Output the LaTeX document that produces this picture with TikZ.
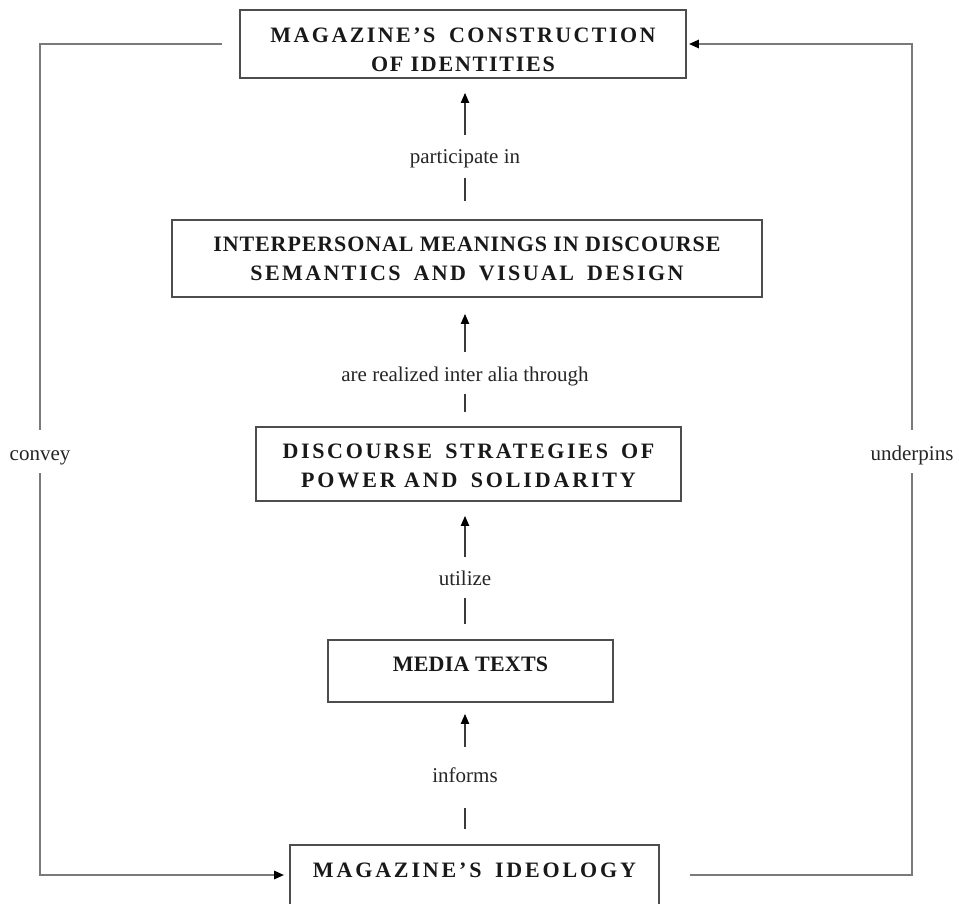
\documentclass[tikz,border=0pt]{standalone}
\usepackage{fontspec}
\setmainfont{Liberation Serif}
\usetikzlibrary{arrows.meta}
\definecolor{boxc}{HTML}{4D4D4D}
\definecolor{connc}{HTML}{7A7A7A}
\definecolor{arrc}{HTML}{3A3A3A}
\newcommand{\bxf}{\fontsize{22}{29}\selectfont\bfseries}
\newcommand{\labf}{\fontsize{21}{24}\selectfont}
\newcommand{\lsp}[1]{\addfontfeatures{LetterSpace=#1}}
\begin{document}
\begin{tikzpicture}[x=1pt,y=-1pt,
  bx/.style={draw=boxc, line width=1.6pt, inner sep=0pt, align=center, font=\bxf, text=black!90},
  conn/.style={draw=connc, line width=2.4pt},
  tipc/.style={-{Triangle[length=10pt,width=8pt,color=black]}},
  arr/.style={draw=arrc, line width=1.8pt, -{Triangle[length=10pt,width=8pt,color=black]}},
  dsh/.style={draw=arrc, line width=1.8pt},
  lab/.style={inner sep=0pt, text height=10pt, text depth=0pt, font=\labf, text=black!85}
]
\useasboundingbox (0,0) rectangle (959,903);
\fill[white] (0,0) rectangle (959,903);

% boxes
\node[bx, minimum width=446pt, text height=61.5pt, text depth=6.5pt] (T) at (463,44)
  {\lsp{11}MAGAZINE’S\hspace{6pt} CONSTRUCTION\\ \lsp{8}OF IDENTITIES};
\node[bx, minimum width=590pt, minimum height=77pt] (I) at (467,258.5)
  {\lsp{4}INTERPERSONAL MEANINGS IN DISCOURSE\\ \lsp{11}SEMANTICS\hspace{5pt} AND\hspace{5pt} VISUAL\hspace{5pt} DESIGN};
\node[bx, minimum width=425pt, text height=60.3pt, text depth=13.7pt] (D) at (468.5,464)
  {\lsp{12}DISCOURSE\hspace{5pt} STRATEGIES\hspace{5pt} OF\\ \lsp{13}POWER AND\hspace{5pt} SOLIDARITY};
\node[bx, minimum width=285pt, text height=31.3pt, text depth=30.7pt] (M) at (470.5,671)
  {\lsp{1}MEDIA TEXTS};
\node[bx, minimum width=369pt, text height=32.3pt, text depth=27.7pt] (G) at (474.5,875)
  {\lsp{13}MAGAZINE’S\hspace{5pt} IDEOLOGY};

% labels
\node[lab] (L1) at (465,158) {participate in};
\node[lab] (L2) at (465,376) {are realized inter alia through};
\node[lab] (L3) at (465,580) {utilize};
\node[lab] (L4) at (465,777) {informs};
\node[lab] (C) at (40,455) {convey};
\node[lab] (U) at (912,455) {underpins};

% central arrows
\draw[arr, shorten <=18pt, shorten >=14pt] (L1.north) -- (L1.north |- T.south);
\draw[dsh, shorten <=15pt, shorten >=18pt] (L1.south) -- (L1.south |- I.north);
\draw[arr, shorten <=19pt, shorten >=16pt] (L2.north) -- (L2.north |- I.south);
\draw[dsh, shorten <=13pt, shorten >=14pt] (L2.south) -- (L2.south |- D.north);
\draw[arr, shorten <=18pt, shorten >=14pt] (L3.north) -- (L3.north |- D.south);
\draw[dsh, shorten <=13pt, shorten >=15pt] (L3.south) -- (L3.south |- M.north);
\draw[arr, shorten <=25pt, shorten >=11pt] (L4.north) -- (L4.north |- M.south);
\draw[dsh, shorten <=26pt, shorten >=15pt] (L4.south) -- (L4.south |- G.north);

% outer loops
\draw[conn, shorten <=17pt, shorten >=20pt] (T.west) -| (C.north);
\draw[conn, tipc, shorten <=13pt, shorten >=5pt] (C.south) |- (G.west);
\draw[conn, shorten <=30pt, shorten >=13pt] (G.east) -| (U.south);
\draw[conn, tipc, shorten <=20pt, shorten >=2pt] (U.north) |- (T.east);
\end{tikzpicture}
\end{document}
